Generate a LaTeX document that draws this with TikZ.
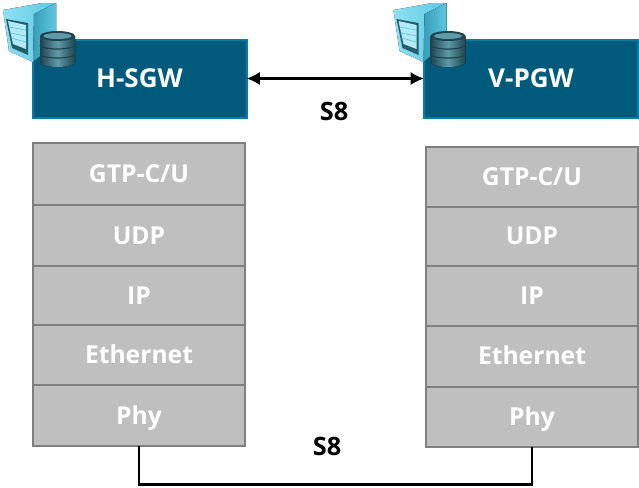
\documentclass[tikz,border=0pt]{standalone}
\usepackage{fontspec}
\setmainfont{Open Sans}
\usetikzlibrary{positioning, arrows.meta}

\definecolor{gwfill}{HTML}{005A7C}
\definecolor{gwline}{HTML}{0080A9}
\definecolor{layerfill}{HTML}{BFBFBF}
\definecolor{layerline}{HTML}{7F7F7F}
\definecolor{srvlight}{HTML}{8FE0F2}
\definecolor{srvmid}{HTML}{5CC8E2}
\definecolor{srvdark}{HTML}{3A9DB8}
\definecolor{dbdark}{HTML}{1F4450}
\definecolor{dbmid}{HTML}{5F9AA8}

\tikzset{
    srvicon/.pic={
        % Tower
        \fill[left color=srvlight, right color=srvmid] (3,10) -- (42,3) -- (56,3) -- (56,42) -- (33,62) -- (9,51) -- cycle;
        \fill[left color=srvdark, right color=srvmid] (34,14) -- (56,3) -- (56,42) -- (33,62) -- cycle;
        \fill[srvdark!60!black] (6,19) -- (28,23) -- (28,55) -- (12,48) -- cycle;
        \fill[srvlight!70!white] (8,21) -- (26,25) -- (26,49) -- (13,44) -- cycle;
        \draw[srvmid, line width=0.5pt] (9,27) -- (26,30) (10,33) -- (26,36) (11,38) -- (26,42);
        % Database
        \fill[left color=dbdark, right color=dbdark, middle color=dbmid] (40,36) -- (40,62) arc[start angle=180, end angle=360, x radius=17.5, y radius=-5] -- (75,36) -- cycle;
        \fill[dbdark] (57.5,36) ellipse[x radius=17.5, y radius=5];
        \fill[dbmid] (57.5,36) ellipse[x radius=14, y radius=3];
        \draw[dbdark, line width=0.9pt] (40,45) arc[start angle=180, end angle=360, x radius=17.5, y radius=-4];
        \draw[dbdark, line width=0.9pt] (40,54) arc[start angle=180, end angle=360, x radius=17.5, y radius=-4];
    }
}

\begin{document}
\begin{tikzpicture}[
        x=0.75pt, y=-0.75pt,
        gwbox/.style={
            minimum width=160.5pt, minimum height=58.5pt,
            fill=gwfill, draw=gwline, line width=1.5pt,
            text=white, font=\fontsize{19.5}{22}\selectfont\bfseries,
            inner sep=0pt, outer sep=0pt
        },
        layerbox/.style={
            minimum width=159.5pt,
            fill=layerfill, draw=layerline, line width=1.5pt,
            text=white, font=\fontsize{18.5}{22}\selectfont\bfseries,
            text height=14pt, text depth=0.75pt,
            inner sep=0pt, outer sep=0pt
        },
        lbl/.style={font=\fontsize{19}{22}\selectfont\bfseries, inner sep=0pt},
        link/.style={draw=black, line width=2.2pt}
    ]

    \useasboundingbox (0,0) rectangle (639,487);

    % Gateways
    \node[gwbox] (hsgw) at (139.5, 78.5) {H-SGW};
    \node[gwbox] (vpgw) at (531, 78.5) {V-PGW};

    % Icons
    \pic at (0,0) {srvicon};
    \pic at (390.5,0) {srvicon};

    % Left stack
    \node[layerbox, minimum height=46.5pt] (lgtp) at (139, 174) {GTP-C/U};
    \node[layerbox, minimum height=45.75pt, below=0pt of lgtp] (ludp) {UDP};
    \node[layerbox, minimum height=44.25pt, below=0pt of ludp] (lip) {IP};
    \node[layerbox, minimum height=45pt, below=0pt of lip] (leth) {Ethernet};
    \node[layerbox, minimum height=45.75pt, below=0pt of leth] (lphy) {Phy};

    % Right stack
    \node[layerbox, minimum height=45pt] (rgtp) at (532, 176.5) {GTP-C/U};
    \node[layerbox, minimum height=44.25pt, below=0pt of rgtp] (rudp) {UDP};
    \node[layerbox, minimum height=45pt, below=0pt of rudp] (rip) {IP};
    \node[layerbox, minimum height=45.75pt, below=0pt of rip] (reth) {Ethernet};
    \node[layerbox, minimum height=45.4pt, below=0pt of reth] (rphy) {Phy};

    % S8 links
    \draw[link, {Latex[length=10pt, width=10pt]}-{Latex[length=10pt, width=10pt]}] (hsgw) -- (vpgw);
    \node[lbl] (s8top) at (334, 111) {S8};

    \coordinate (bend) at (139, 484.5);
    \draw[link] (lphy.south) -- (bend) -| (rphy.south);
    \node[lbl] (s8bot) at (327, 446) {S8};

\end{tikzpicture}
\end{document}
